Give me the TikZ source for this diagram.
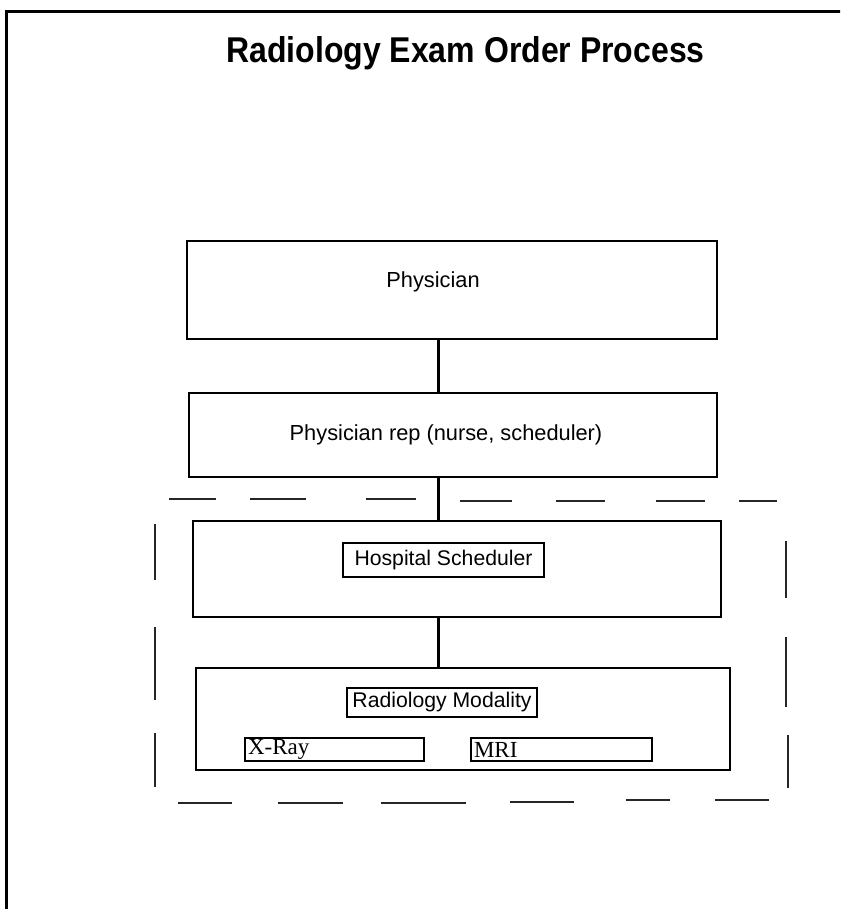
\documentclass[tikz,border=0pt]{standalone}
\usepackage{fontspec}
\setmainfont{Liberation Sans}
\newfontfamily\timesf{Liberation Serif}
\begin{document}
\begin{tikzpicture}[x=1pt,y=-1pt,
  box/.style={draw=black,line width=1.8pt,minimum width=#1,inner sep=0pt},
  lbl/.style={draw=black,line width=1.5pt,inner sep=0pt},
  txt/.style={font=\fontsize{21.8}{24}\selectfont,inner sep=0pt},
  stxt/.style={font=\fontsize{21.2}{24}\selectfont,inner sep=0pt},
  serif/.style={font=\timesf\fontsize{23}{24}\selectfont,align=left,inner xsep=3pt,inner ysep=0pt},
  conn/.style={line width=3pt},
  dsh/.style={line width=1.8pt,color=black!85}]
\useasboundingbox (0,0) rectangle (840,909);
\fill[white] (0,0) rectangle (840,909);
\clip (0,0) rectangle (840,909);
% outer frame (extends beyond right and bottom)
\draw[line width=3pt] (6,12) rectangle (860,930);
% title
\node[font=\bfseries\fontsize{32}{36}\selectfont,inner sep=0pt,anchor=base] (title) at (465.5,63) {\scalebox{1}[1.12]{Radiology Exam Order Process}};
% dashed grouping (individual dashes)
\foreach \a/\b/\y in {169/216/499,250/306/499,366/416/499,460/512/501,556/605/501,656/705/501,739/777/501}
  \draw[dsh] (\a,\y) -- (\b,\y);
\foreach \a/\b/\y in {178/232/803,278/343/803,381/466/803,510/574/802,626/670/800,715/769/800}
  \draw[dsh] (\a,\y) -- (\b,\y);
\foreach \a/\b/\x in {524/580/155,627/700/155,733/787/155,541/598/786,637/707/786,735/788/788}
  \draw[dsh] (\x,\a) -- (\x,\b);
% boxes
\node[box=530pt,minimum height=98pt] (phys) at (452,290) {};
\node[txt,anchor=base] (physT) at (433,287) {Physician};
\node[box=528pt,minimum height=84pt] (rep) at (453,435) {};
\node[txt,anchor=base] (repT) at (446,440) {Physician rep (nurse, scheduler)};
\node[box=528pt,minimum height=96pt] (hosp) at (457,569) {};
\node[lbl,minimum width=201pt,minimum height=34pt,stxt] (hospL) at (443.5,560) {Hospital Scheduler};
\node[box=534pt,minimum height=102pt] (rad) at (463,719) {};
\node[lbl,minimum width=190pt,minimum height=29pt,stxt] (radL) at (442,702.5) {Radiology Modality};
\node[lbl,serif,minimum height=23pt,text width=173pt] (xray) at (334.5,749.5) {X-Ray};
\node[lbl,serif,minimum height=23pt,text width=175pt] (mri) at (561.5,749.5) {MRI};
% connectors
\coordinate (cx) at (438,0);
\draw[conn] (phys.south -| cx) -- (rep.north -| cx);
\draw[conn] (rep.south -| cx) -- (hosp.north -| cx);
\draw[conn] (hosp.south -| cx) -- (rad.north -| cx);
\end{tikzpicture}
\end{document}
